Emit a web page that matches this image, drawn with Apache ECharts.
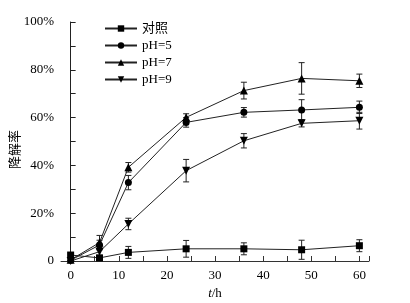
<!DOCTYPE html>
<html><head><meta charset="utf-8">
<script src="https://cdn.jsdelivr.net/npm/echarts@6/dist/echarts.min.js"></script>
<style>html,body{margin:0;padding:0;background:#fff}#c{width:410px;height:303px}</style>
</head><body><div id="c"></div>
<script>
var times = [0, 6, 12, 24, 36, 48, 60];
var seriesNames = ['对照', 'pH=5', 'pH=7', 'pH=9'];
var ctrl = [2.5, 1.3, 3.6, 5.1, 5.1, 4.7, 6.4];
var ctrlErr = [0, 0.5, 2.5, 3.5, 2.5, 4, 2.5];
var ph5 = [0.3, 6.7, 32.8, 58, 62.2, 63.2, 64.3];
var ph5Err = [0, 2, 3, 2, 2, 4.3, 2.6];
var ph7 = [0.5, 7.7, 39.2, 60.1, 71.3, 76.4, 75.4];
var ph7Err = [0, 3, 2, 1.5, 3.5, 6.6, 2.8];
var ph9 = [0, 3.9, 15.5, 37.8, 50.3, 57.6, 58.7];
var ph9Err = [0, 1.5, 2.4, 4.7, 3, 1.5, 3.5];
var yTicks = [0, 20, 40, 60, 80, 100];
var xLabels = [0, 10, 20, 30, 40, 50, 60];
var xTicks = [0, 5, 10, 15, 20, 25, 30, 35, 40, 45, 50, 55, 60, 62];

var font = '"Liberation Serif", "Noto Sans CJK SC", serif';
var vals = [ctrl, ph5, ph7, ph9];
var errs = [ctrlErr, ph5Err, ph7Err, ph9Err];
var symbols = ['rect', 'circle', 'triangle', 'triangle'];
var rots = [0, 0, 0, 180];
var sizes = [7, 7, 8, 8];

var series = [];
for (var i = 0; i < 4; i++) {
  var d = times.map(function (t, k) { return [t, vals[i][k]]; });
  series.push({
    name: seriesNames[i], type: 'line', data: d,
    symbol: symbols[i], symbolRotate: rots[i], symbolSize: sizes[i],
    itemStyle: { color: '#000' },
    lineStyle: { color: '#222', width: 1 },
    z: 3
  });
  var ed = times.map(function (t, k) { return [t, vals[i][k] - errs[i][k], vals[i][k] + errs[i][k]]; })
    .filter(function (r) { return r[2] - r[1] > 0; });
  series.push({
    type: 'custom', data: ed, silent: true, z: 2,
    renderItem: function (params, api) {
      var lo = api.coord([api.value(0), api.value(1)]);
      var hi = api.coord([api.value(0), api.value(2)]);
      var w = 3;
      var st = { stroke: '#222', lineWidth: 1 };
      return { type: 'group', children: [
        { type: 'line', shape: { x1: lo[0], y1: lo[1], x2: hi[0], y2: hi[1] }, style: st },
        { type: 'line', shape: { x1: lo[0] - w, y1: lo[1], x2: lo[0] + w, y2: lo[1] }, style: st },
        { type: 'line', shape: { x1: hi[0] - w, y1: hi[1], x2: hi[0] + w, y2: hi[1] }, style: st }
      ]};
    }
  });
}

var chart = echarts.init(document.getElementById('c'), null, { renderer: 'canvas' });
chart.setOption({
  animation: false,
  backgroundColor: '#fff',
  grid: { left: 61, right: 41, top: 22, bottom: 42, outerBoundsMode: 'none', containLabel: false },
  legend: {
    data: seriesNames, orient: 'vertical', left: 104, top: 22, padding: 0,
    itemWidth: 32, itemHeight: 8, itemGap: 4,
    textStyle: { fontFamily: font, fontSize: 13, color: '#000' }
  },
  xAxis: {
    type: 'value', min: -2, max: 62,
    name: '{i|t}/h', nameLocation: 'middle', nameGap: 24,
    nameTextStyle: { fontFamily: font, fontSize: 13, color: '#000', rich: { i: { fontStyle: 'italic', fontFamily: font, fontSize: 13, color: '#000' } } },
    axisLine: { lineStyle: { color: '#333', width: 1 } },
    axisTick: { inside: true, length: 5, customValues: xTicks, lineStyle: { color: '#333' } },
    axisLabel: { customValues: xLabels, fontFamily: font, fontSize: 13, color: '#000', margin: 8 },
    splitLine: { show: false }
  },
  yAxis: {
    type: 'value', min: 0, max: 100, interval: 10,
    name: '降解率', nameLocation: 'middle', nameGap: 39, nameRotate: 90, nameMoveOverlap: false,
    nameTextStyle: { fontFamily: font, fontSize: 13, color: '#000', padding: [0, 16, 0, 0] },
    axisLine: { show: true, lineStyle: { color: '#222', width: 1 } },
    axisTick: { inside: true, length: 5, lineStyle: { color: '#222' } },
    axisLabel: {
      fontFamily: font, fontSize: 13, color: '#000', margin: 7,
      formatter: function (v) { return yTicks.indexOf(v) < 0 ? '' : (v === 0 ? '0' : v + '%'); }
    },
    splitLine: { show: false }
  },
  series: series
});
</script></body></html>
